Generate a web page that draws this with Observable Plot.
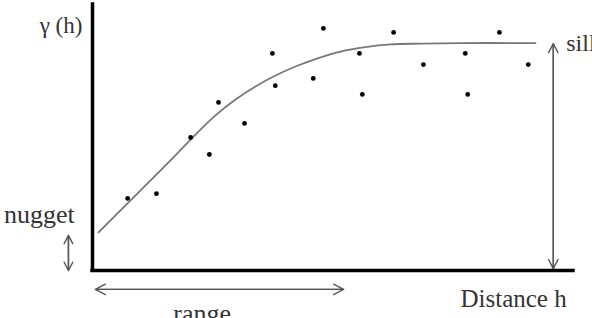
<!DOCTYPE html>
<html><head><meta charset="utf-8">
<script src="https://cdn.jsdelivr.net/npm/d3@7"></script>
<script src="https://cdn.jsdelivr.net/npm/@observablehq/plot@0.6"></script>
<style>body{margin:0;background:#fff;overflow:hidden} svg{display:block}</style>
</head><body><div id="chart"></div>
<script>
// Empirical semivariogram points (distance h, gamma(h)) in arbitrary units
const pointX = [7.3, 13.3, 20.4, 24.3, 26.2, 31.6, 37.4, 38.0, 45.9, 48.0, 55.5, 56.1, 62.6, 68.8, 77.5, 78.0, 84.6, 90.6];
const pointY = [27.1, 28.9, 50.0, 43.6, 63.2, 55.3, 81.6, 69.5, 72.2, 91.0, 81.6, 66.2, 89.5, 77.4, 81.6, 66.2, 89.5, 77.4];
// Fitted model curve
const curveX = [1.25, 5.82, 11.02, 16.22, 21.41, 25.57, 29.73, 33.89, 38.05, 42.20, 46.36, 51.56, 56.76, 61.95, 68.19, 76.51, 92.10];
const curveY = [14.3, 22.6, 32.0, 41.4, 51.1, 58.3, 64.3, 69.2, 73.3, 76.7, 79.5, 82.3, 84.0, 85.0, 85.3, 85.5, 85.5];
// Annotation texts
const labelYAxis = "γ (h)";
const labelNugget = "nugget";
const labelSill = "sill";
const labelRange = "range";
const labelXAxis = "Distance h";

const points = pointX.map((x, i) => ({x, y: pointY[i]}));
const curve = curveX.map((x, i) => ({x, y: curveY[i]}));

// double arrows: each drawn as two full-length single arrows in opposite directions
const sillArrow = [{x1: 95.8, y1: 0.7, x2: 95.8, y2: 85.3}, {x1: 95.8, y1: 85.3, x2: 95.8, y2: 0.7}];
const nuggetArrow = [{x1: -5.0, y1: 0, x2: -5.0, y2: 13.2}, {x1: -5.0, y1: 13.2, x2: -5.0, y2: 0}];
const rangeArrow = [{x1: 0.6, y1: -7.1, x2: 52.2, y2: -7.1}, {x1: 52.2, y1: -7.1, x2: 0.6, y2: -7.1}];

const textColor = "#333";
const arrowColor = "#555";

const chart = Plot.plot({
  width: 592, height: 318,
  marginLeft: 92, marginRight: 19, marginTop: 4, marginBottom: 48,
  x: {domain: [0, 100], axis: null},
  y: {domain: [0, 100], axis: null},
  style: {fontFamily: "Liberation Serif", background: "white", overflow: "hidden"},
  marks: [
    Plot.line(curve, {x: "x", y: "y", curve: "catmull-rom", stroke: "#777", strokeWidth: 1.8}),
    Plot.dot(points, {x: "x", y: "y", r: 2.4, fill: "black", stroke: null}),
    Plot.arrow(sillArrow, {x1: "x1", y1: "y1", x2: "x2", y2: "y2", stroke: arrowColor, strokeWidth: 1.4, headLength: 11, headAngle: 55}),
    Plot.arrow(nuggetArrow, {x1: "x1", y1: "y1", x2: "x2", y2: "y2", stroke: arrowColor, strokeWidth: 1.4, headLength: 10, headAngle: 55}),
    Plot.arrow(rangeArrow, {x1: "x1", y1: "y1", x2: "x2", y2: "y2", stroke: arrowColor, strokeWidth: 1.4, headLength: 12, headAngle: 55}),
    Plot.ruleX([0], {y1: 0, y2: 100, stroke: "black", strokeWidth: 3.5, strokeLinecap: "square"}),
    Plot.ruleY([0], {x1: 0, x2: 100, stroke: "black", strokeWidth: 3.5, strokeLinecap: "square"}),
    Plot.text([labelYAxis], {x: -2.1, y: 89.1, text: d => d, textAnchor: "end", lineAnchor: "bottom", fontSize: 23, fill: textColor}),
    Plot.text([labelNugget], {x: -3.7, y: 18.0, text: d => d, textAnchor: "end", lineAnchor: "bottom", fontSize: 26, fill: textColor}),
    Plot.text([labelSill], {x: 98.5, y: 82.7, text: d => d, textAnchor: "start", lineAnchor: "bottom", fontSize: 24, fill: textColor}),
    Plot.text([labelRange], {x: 16.8, y: -19.2, text: d => d, textAnchor: "start", lineAnchor: "bottom", fontSize: 26, fill: textColor}),
    Plot.text([labelXAxis], {x: 76.5, y: -13.9, text: d => d, textAnchor: "start", lineAnchor: "bottom", fontSize: 25, fill: textColor})
  ]
});
document.getElementById("chart").appendChild(chart);
</script>
</body></html>
